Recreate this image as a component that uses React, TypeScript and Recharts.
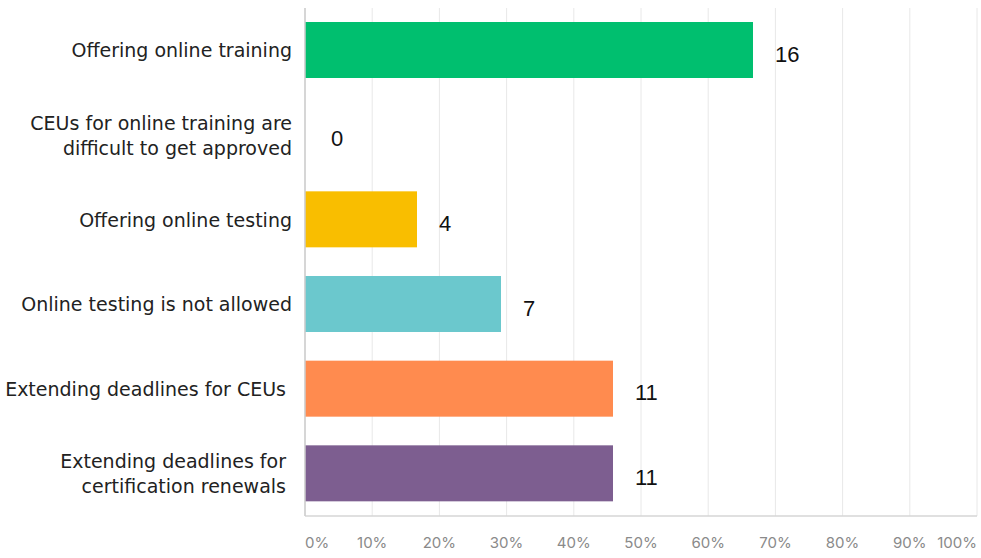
import { Bar, BarChart, CartesianGrid, XAxis, YAxis } from "recharts";

const categories = [
  "Offering online training",
  "CEUs for online training are\ndifficult to get approved",
  "Offering online testing",
  "Online testing is not allowed",
  "Extending deadlines for CEUs\u00a0",
  "Extending deadlines for\u00a0\ncertification renewals\u00a0",
];
const counts = [16, 0, 4, 7, 11, 11];
const colors = ["#00BF6F", "#F9BE00", "#F9BE00", "#6BC8CD", "#FF8B4F", "#7D5E90"];
const respondents = 24;
const percentTicks = [0, 0.1, 0.2, 0.3, 0.4, 0.5, 0.6, 0.7, 0.8, 0.9, 1];

const data = categories.map((name, i) => ({
  name,
  count: counts[i],
  share: counts[i] / respondents,
  color: colors[i],
}));

const CategoryTick = (props: any) => {
  const { x, y, payload } = props;
  const lines = String(payload.value).split("\n");
  const lineHeight = 25;
  const start = y - ((lines.length - 1) * lineHeight) / 2;
  return (
    <text
      x={x - 5}
      y={start}
      textAnchor="end"
      dominantBaseline="central"
      fontFamily="DejaVu Sans"
      fontSize={19}
      fill="#222"
    >
      {lines.map((line, i) => (
        <tspan key={i} x={x - 5} y={start + i * lineHeight} style={{ whiteSpace: "pre" }}>
          {line}
        </tspan>
      ))}
    </text>
  );
};

const PercentTick = (props: any) => {
  const { x, y, payload, index } = props;
  const anchor = index === 0 ? "start" : index === percentTicks.length - 1 ? "end" : "middle";
  return (
    <text
      x={x}
      y={y + 18}
      textAnchor={anchor}
      dominantBaseline="central"
      fontFamily="Inter"
      fontSize={15}
      fill="#8a8a8a"
    >
      {`${Math.round(payload.value * 100)}%`}
    </text>
  );
};

const BarWithCount = (props: any) => {
  const { x, y, width, height, payload } = props;
  const w = Math.max(0, width || 0);
  return (
    <g>
      {w > 0 && <rect x={x} y={y} width={w} height={height} fill={payload.color} />}
      <text
        x={x + w + (w > 0 ? 22 : 26)}
        y={y + height / 2 + 4}
        dominantBaseline="central"
        fontFamily="Liberation Sans"
        fontSize={22}
        fill="#111"
      >
        {payload.count}
      </text>
    </g>
  );
};

export default function App() {
  return (
    <div style={{ position: "absolute", left: 0, top: 0, background: "#fff" }}>
      <BarChart
        width={981}
        height={558}
        data={data}
        layout="vertical"
        margin={{ top: 8, right: 4, bottom: 0, left: 0 }}
        barSize={56}
      >
        <CartesianGrid horizontal={false} stroke="#e8e8e8" />
        <XAxis
          type="number"
          dataKey="share"
          domain={[0, 1]}
          ticks={percentTicks}
          interval={0}
          height={42}
          tickLine={false}
          axisLine={{ stroke: "#d6d6d6", strokeWidth: 1.5 }}
          tick={<PercentTick />}
        />
        <YAxis
          type="category"
          dataKey="name"
          width={305}
          tickLine={false}
          axisLine={{ stroke: "#cccccc", strokeWidth: 1.5 }}
          tick={<CategoryTick />}
          interval={0}
        />
        <Bar dataKey="share" isAnimationActive={false} shape={<BarWithCount />} />
      </BarChart>
    </div>
  );
}
